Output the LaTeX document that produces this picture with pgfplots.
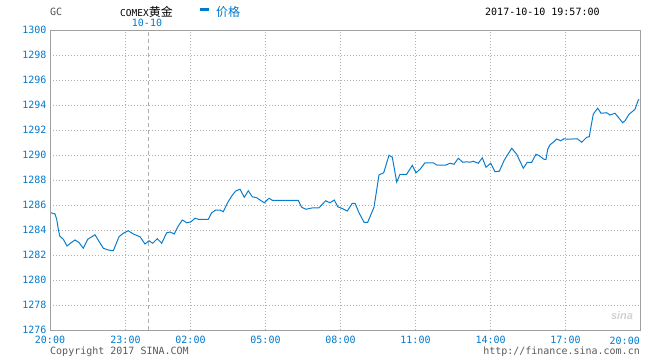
\documentclass[border=0pt]{standalone}
\usepackage{pgfplots}
\pgfplotsset{compat=1.18}
\usepackage{pgfplotstable}
\usepackage{fontspec}
\setmainfont{DejaVu Sans Mono}
\newfontfamily\cjk{Noto Sans CJK SC}
\newfontfamily\sansf{Liberation Sans}
\definecolor{sinablue}{RGB}{0,122,204}
\definecolor{linecol}{RGB}{10,124,204}
\definecolor{gridc}{RGB}{175,175,175}
\definecolor{framec}{RGB}{160,160,160}
\pgfplotstableread{
x y
51 1285.38
55 1285.28
56.7 1284.86
58.3 1284.06
59.7 1283.52
63.3 1283.26
67 1282.72
71 1282.98
75 1283.20
79 1283.00
83.3 1282.54
87.7 1283.26
91 1283.42
95 1283.62
97.7 1283.26
103.3 1282.54
108.3 1282.40
113.3 1282.34
119 1283.46
123.3 1283.74
128.3 1283.94
133.3 1283.68
140 1283.46
145 1282.88
149 1283.14
152.7 1282.94
157.3 1283.30
161.7 1282.94
166.7 1283.78
170 1283.84
174.3 1283.68
178.3 1284.32
182.3 1284.80
186.7 1284.58
190.7 1284.64
195 1284.94
198.3 1284.86
208.3 1284.86
211.7 1285.38
215.7 1285.60
220 1285.60
223.3 1285.46
227.3 1286.14
231.7 1286.72
235.7 1287.12
240 1287.26
244.3 1286.62
248.3 1287.14
252.3 1286.66
256.7 1286.58
260 1286.40
264.3 1286.18
269 1286.54
272.3 1286.38
298.3 1286.38
300 1286.08
301.7 1285.82
306 1285.66
311.7 1285.76
319 1285.78
325.7 1286.34
330 1286.18
334.3 1286.40
337.7 1285.86
342.7 1285.70
347.3 1285.52
352.3 1286.14
355 1286.14
359 1285.38
364 1284.62
367.7 1284.62
374 1285.82
379 1288.40
383.7 1288.58
389 1289.98
392.3 1289.82
396.7 1287.84
400 1288.46
406.7 1288.46
412.3 1289.18
416 1288.58
420 1288.86
425 1289.38
433.3 1289.38
436.7 1289.20
446 1289.20
450 1289.34
454 1289.26
458.3 1289.74
462.7 1289.42
466.7 1289.46
470 1289.42
473.3 1289.50
478.3 1289.34
482.3 1289.78
486 1289.02
490.7 1289.34
495 1288.66
499.3 1288.70
504.3 1289.60
511.7 1290.54
516.7 1290.06
523.3 1288.94
527.3 1289.42
531.7 1289.42
536 1290.06
539.3 1289.94
544 1289.66
546 1289.66
547.7 1290.46
550 1290.82
553.3 1291.02
556.7 1291.28
560.7 1291.14
564 1291.30
567.3 1291.26
577.3 1291.30
581.7 1291.02
586.7 1291.42
589.3 1291.46
590.7 1292.14
593.3 1293.28
597.7 1293.74
601 1293.34
606.7 1293.38
610 1293.20
615 1293.34
618.3 1293.02
622.7 1292.58
625 1292.74
629 1293.26
633.3 1293.54
635 1293.66
638.3 1294.40
639 1294.46
}\gold
\begin{document}
\fontsize{10}{12}\selectfont
\begin{tikzpicture}
\useasboundingbox (0,0) rectangle (660pt,360pt);
\begin{axis}[
  at={(50pt,30pt)}, anchor=south west,
  scale only axis, width=590pt, height=300pt,
  xmin=50, xmax=640, ymin=1276, ymax=1300,
  xtick={50,125.5,190.5,265.5,340.5,415.5,490.7,565.5,640},
  xticklabels={20:00,23:00,02:00,05:00,08:00,11:00,14:00,17:00,{}},
  ytick={1276,1278,...,1300},
  /pgf/number format/assume math mode=true,
  yticklabel style={/pgf/number format/1000 sep={}, text=sinablue, font=\fontsize{10}{12}\selectfont},
  xticklabel style={text=sinablue, font=\fontsize{10}{12}\selectfont, yshift=-2.5pt},
  major tick length=0pt,
  grid=major,
  major grid style={gridc, dash pattern=on 1pt off 2pt, line width=0.8pt},
  axis line style={framec, line width=1pt},
  clip=false,
]
\draw[gridc, dash pattern=on 4pt off 3pt, line width=0.8pt] (axis cs:148,1276) -- (axis cs:148,1300);
\addplot[linecol, line width=1pt, mark=none] table[x=x, y=y] {\gold};
\end{axis}
% titles
\node[anchor=west, inner sep=0pt, text=black!70] at (50pt,348pt) {GC};
\node[anchor=west, inner sep=0pt, text=black] at (120pt,348pt) {\fontsize{9.5}{11}\selectfont COMEX\cjk\fontsize{12}{14}\selectfont 黄金};
\fill[sinablue] (200pt,349.5pt) rectangle (209pt,352.5pt);
\node[anchor=west, inner sep=0pt, text=sinablue] at (216pt,348pt) {\cjk\fontsize{12}{14}\selectfont 价格};
\node[anchor=center, inner sep=0pt, text=sinablue] at (147pt,337pt) {10-10};
\node[anchor=west, inner sep=0pt, text=black] at (485pt,348pt) {2017-10-10 19:57:00};
% last x tick label
\node[anchor=north east, inner sep=0pt, text=sinablue] at (640pt,23pt) {20:00};
% footer
\node[anchor=west, inner sep=0pt, text=black!65] at (50pt,8pt) {Copyright 2017 SINA.COM};
\node[anchor=east, inner sep=0pt, text=black!65] at (640pt,8pt) {http://finance.sina.com.cn};
\node[anchor=center, inner sep=0pt, text=black!18] at (622pt,44pt) {\sansf\bfseries\itshape\fontsize{11}{12}\selectfont sina};
\end{tikzpicture}
\end{document}
